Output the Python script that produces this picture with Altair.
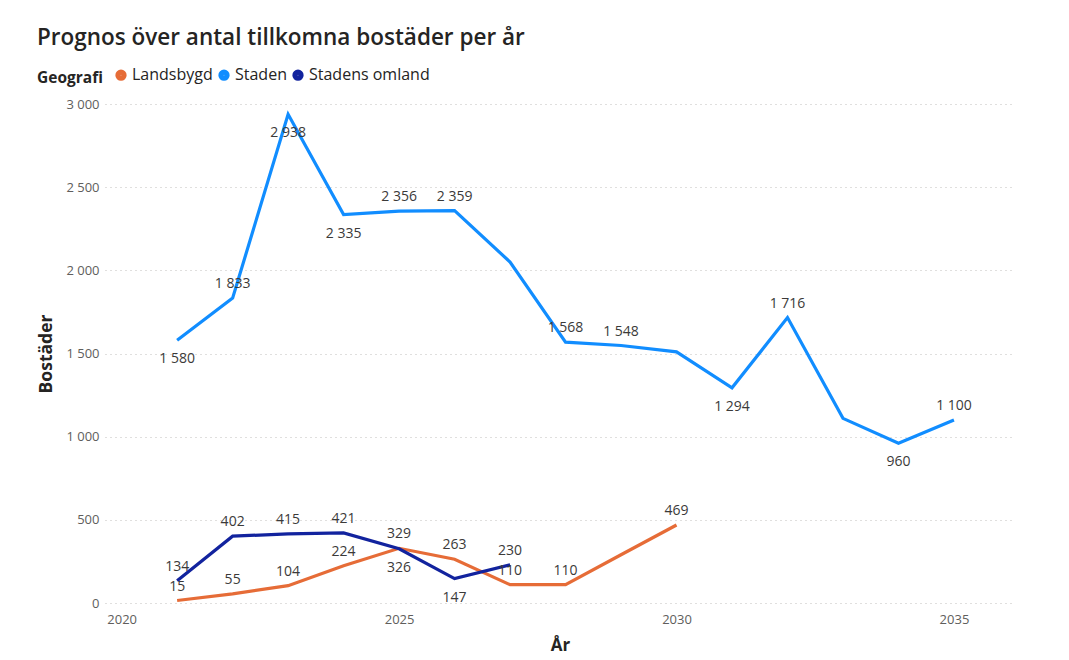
import altair as alt
import pandas as pd

# ---------------- data ----------------
series_names = ["Landsbygd", "Staden", "Stadens omland"]
series_colors = ["#E66C37", "#118DFF", "#12239E"]

staden_years = list(range(2021, 2036))
staden_values = [1580, 1833, 2938, 2335, 2356, 2359, 2050, 1568, 1548, 1510, 1294, 1716, 1110, 960, 1100]

landsbygd_years = list(range(2021, 2031))
landsbygd_values = [15, 55, 104, 224, 329, 263, 110, 110, 290, 469]

omland_years = list(range(2021, 2028))
omland_values = [134, 402, 415, 421, 326, 147, 230]

x_ticks = [2020, 2025, 2030, 2035]
y_ticks = [0, 500, 1000, 1500, 2000, 2500, 3000]

# label placement (style)
labels_below = {("Staden", 2021), ("Staden", 2023), ("Staden", 2024), ("Staden", 2031),
                ("Staden", 2034), ("Stadens omland", 2025), ("Stadens omland", 2026)}
labels_hidden = {("Staden", 2027), ("Staden", 2030), ("Staden", 2033), ("Landsbygd", 2029)}

rows = []
for name, yrs, vals in [("Landsbygd", landsbygd_years, landsbygd_values),
                        ("Staden", staden_years, staden_values),
                        ("Stadens omland", omland_years, omland_values)]:
    for yv, v in zip(yrs, vals):
        key = (name, yv)
        pos = "hidden" if key in labels_hidden else ("below" if key in labels_below else "above")
        rows.append({"series": name, "year": yv, "value": v,
                     "label": f"{v:,}".replace(",", " "), "pos": pos})
df = pd.DataFrame(rows)

FONT = "Open Sans"

x_enc = alt.X("year:Q",
              scale=alt.Scale(domain=[2019.7, 2036.1], nice=False, zero=False),
              axis=alt.Axis(values=x_ticks, format="d", grid=False, domain=False, ticks=False,
                            labelFont=FONT, labelFontSize=13, labelColor="#605E5C", labelPadding=10,
                            title="År", titleFont=FONT, titleFontSize=17, titleFontWeight="bold",
                            titleColor="#252423", titlePadding=11))
y_enc = alt.Y("value:Q",
              scale=alt.Scale(domain=[0, 3000], nice=False),
              axis=alt.Axis(values=y_ticks, labelExpr="replace(format(datum.value, ','), ',', ' ')",
                            grid=True, gridDash=[1, 4], gridColor="#C0BEBC", gridWidth=1,
                            domain=False, ticks=False,
                            labelFont=FONT, labelFontSize=13, labelColor="#605E5C", labelPadding=6,
                            title="Bostäder", titleFont=FONT, titleFontSize=17.5, titleFontWeight="bold",
                            titleColor="#252423", titlePadding=10))
color_scale = alt.Scale(domain=series_names, range=series_colors)

color_legend = alt.Legend(orient="none", legendX=-68, legendY=-37, direction="horizontal",
                          title="Geografi", titleOrient="left", titleFont=FONT,
                          titleFontSize=15.5, titleFontWeight="bold", titleColor="#252423",
                          labelFont=FONT, labelFontSize=16, labelColor="#252423",
                          symbolType="circle", symbolSize=28, symbolStrokeWidth=6,
                          columnPadding=-4, labelOffset=3, titlePadding=10)

lines = alt.Chart(df).mark_line(strokeWidth=3.2, strokeJoin="miter").encode(
    x=x_enc, y=y_enc,
    color=alt.Color("series:N", scale=color_scale, legend=color_legend),
    detail="series:N",
)

text_above = alt.Chart(df).transform_filter("datum.pos == 'above'").mark_text(
    dy=-14, fontSize=14, font=FONT, color="#3B3A39", baseline="middle").encode(
    x="year:Q", y="value:Q", text="label:N")
text_below = alt.Chart(df).transform_filter("datum.pos == 'below'").mark_text(
    dy=19, fontSize=14, font=FONT, color="#3B3A39", baseline="middle").encode(
    x="year:Q", y="value:Q", text="label:N")

chart = alt.layer(lines, text_above, text_below).properties(
    width=910, height=499,
    padding={"left": 97, "top": 96, "right": 46, "bottom": 56},
    autosize=alt.AutoSizeParams(type="none"),
    title=alt.Title("Prognos över antal tillkomna bostäder per år", anchor="start", frame="group",
                    dx=-68, fontSize=22.5, fontWeight=600, font=FONT, color="#252423", offset=18),
).configure_view(stroke=None)

chart.save("out.html", embed_options={"renderer": "svg", "actions": False})
